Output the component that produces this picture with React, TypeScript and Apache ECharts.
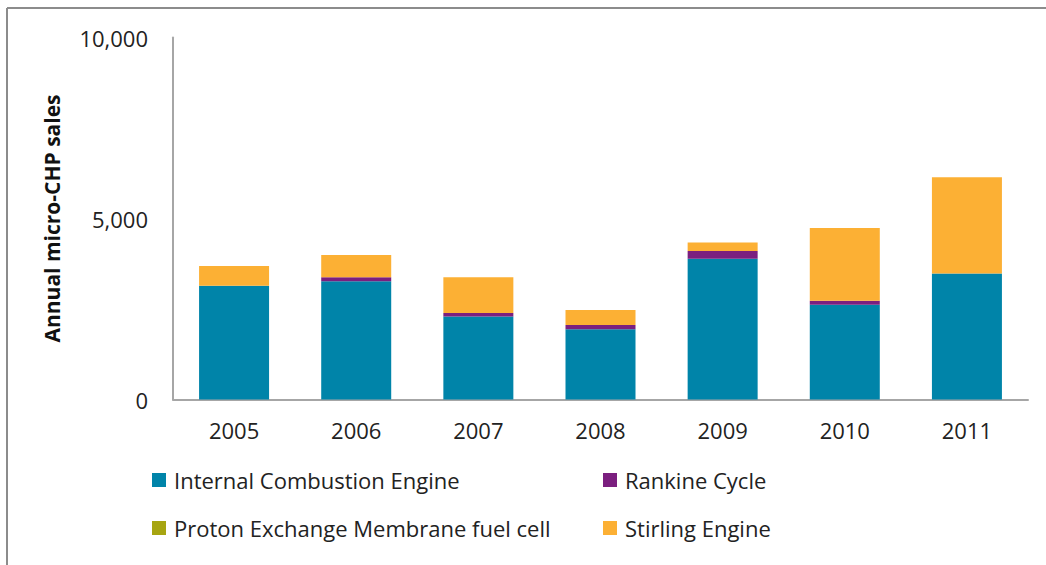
import React, { useEffect, useRef } from "react";
import * as echarts from "echarts";

const years = ["2005", "2006", "2007", "2008", "2009", "2010", "2011"];
const iceValues = [3140, 3270, 2290, 1940, 3890, 2620, 3480];
const rankineValues = [0, 110, 100, 120, 210, 110, 0];
const pemValues = [0, 0, 0, 0, 0, 0, 0];
const stirlingValues = [550, 610, 990, 410, 240, 2010, 2660];
const yTicks = [0, 5000, 10000];

const FONT = "'Open Sans', 'Noto Sans', sans-serif";

export default function App() {
  const ref = useRef<HTMLDivElement>(null);
  useEffect(() => {
    if (!ref.current) return;
    const chart = echarts.init(ref.current, undefined, { renderer: "svg" });
    const names = [
      "Internal Combustion Engine",
      "Rankine Cycle",
      "Proton Exchange Membrane fuel cell",
      "Stirling Engine",
    ];
    const colors = ["#0084a9", "#7b1f7f", "#a7a511", "#fcb034"];
    const values = [iceValues, rankineValues, pemValues, stirlingValues];
    const legendCommon = {
      orient: "vertical" as const,
      icon: "rect",
      itemWidth: 14,
      itemHeight: 14,
      itemGap: 26,
      textStyle: {
        fontFamily: FONT,
        fontSize: 22,
        color: "#222",
        padding: [0, 0, 0, 3],
      },
    };
    chart.setOption({
      animation: false,
      backgroundColor: "#fff",
      color: colors,
      grid: { left: 173, right: 18, top: 37.5, bottom: 165.5 },
      legend: [
        { ...legendCommon, left: 147, top: 464, data: [names[0], names[2]] },
        { ...legendCommon, left: 598, top: 464, data: [names[1], names[3]] },
      ],
      xAxis: {
        type: "category",
        data: years,
        axisLine: { lineStyle: { color: "#a6a6a6", width: 2 } },
        axisTick: { show: false },
        axisLabel: { fontFamily: FONT, fontSize: 22, color: "#222", margin: 19 },
      },
      yAxis: {
        type: "value",
        min: 0,
        max: 10000,
        interval: 5000,
        name: "Annual micro-CHP sales",
        nameLocation: "middle",
        nameGap: 111,
        nameTextStyle: { fontFamily: FONT, fontSize: 21, fontWeight: "bold", color: "#111" },
        axisLine: { show: true, lineStyle: { color: "#a6a6a6", width: 2 } },
        axisTick: { show: false },
        splitLine: { show: false },
        axisLabel: {
          fontFamily: FONT,
          fontSize: 22,
          color: "#222",
          margin: 25,
          formatter: (v: number) =>
            yTicks.includes(v) ? v.toLocaleString("en-US") : "",
        },
      },
      series: names.map((n, i) => ({
        name: n,
        type: "bar",
        stack: "total",
        barWidth: 70,
        data: values[i],
        itemStyle: { color: colors[i] },
      })),
      graphic: [
        { type: "line", shape: { x1: 7, y1: 8, x2: 1046, y2: 8 }, style: { stroke: "#8c8c8c", lineWidth: 2 } },
        { type: "line", shape: { x1: 7, y1: 8, x2: 7, y2: 565 }, style: { stroke: "#8c8c8c", lineWidth: 2 } },
      ],
    });
    return () => chart.dispose();
  }, []);
  return (
    <div
      ref={ref}
      style={{ position: "fixed", left: 0, top: 0, width: 1046, height: 565 }}
    />
  );
}
